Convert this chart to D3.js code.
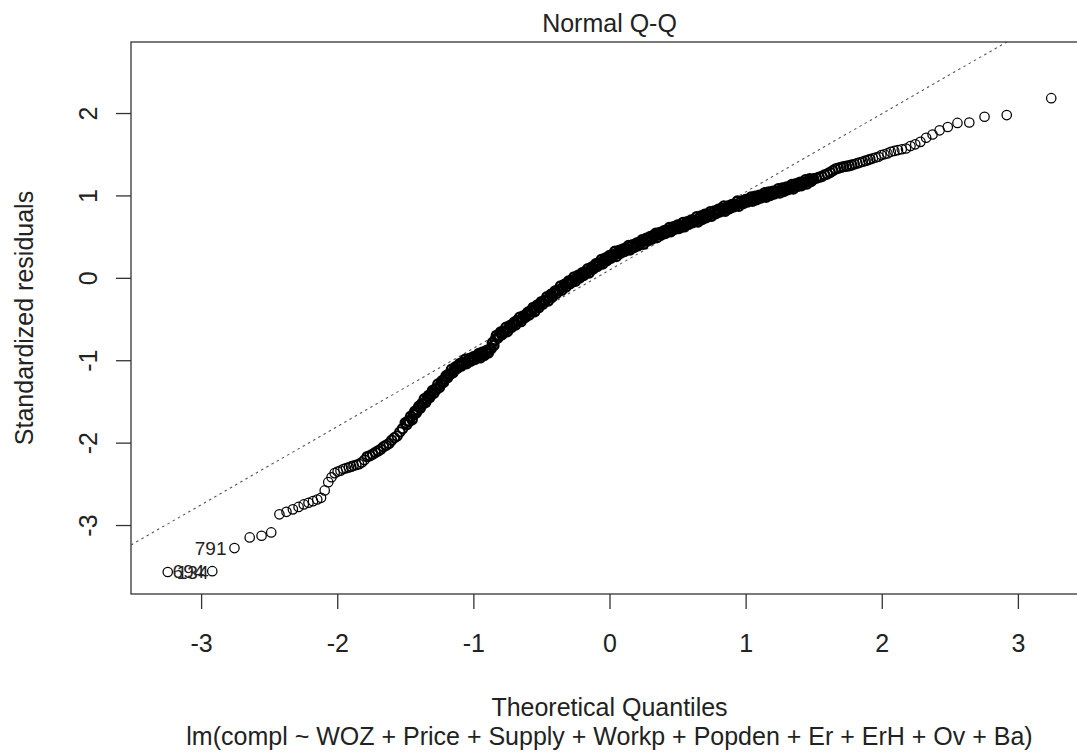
<!DOCTYPE html>
<html>
<head>
<meta charset="utf-8">
<script src="https://cdnjs.cloudflare.com/ajax/libs/d3/7.8.5/d3.min.js"></script>
<style>
    body { margin: 0; background: #fff; }
    svg text { font-family: Arial, "Liberation Sans", sans-serif; fill: #222; }
</style>
</head>
<body>
<div class="content"></div>
<script>
// residual data: tails + outer band, then the dense core
var tailX = [-3.245, -2.918, -2.755, -2.643, -2.556, -2.485, -2.425, -2.373, -2.326, -2.284,
    -2.246, -2.211, -2.178, -2.147, -2.119, -2.092, -2.066, -2.042, -2.019, -1.997,
    -1.976, -1.955, -1.935, -1.915, -1.898, -1.88, -1.86, -1.84, -1.82, -1.80,
    -1.78, -1.76, -1.74, -1.72, -1.70, -1.68, -1.66, -1.64, -1.62, -1.60,
    -1.58, -1.56, -1.54, -1.52,
    1.52, 1.54, 1.56, 1.58, 1.60, 1.62, 1.64, 1.66, 1.68, 1.70,
    1.72, 1.74, 1.76, 1.78, 1.80, 1.82, 1.84, 1.86, 1.88, 1.90,
    1.915, 1.935, 1.955, 1.976, 1.997, 2.019, 2.042, 2.066, 2.092, 2.119,
    2.147, 2.178, 2.211, 2.246, 2.284, 2.326, 2.373, 2.425, 2.485, 2.556,
    2.643, 2.755, 2.918, 3.245];
var tailY = [-3.57, -3.56, -3.28, -3.15, -3.13, -3.09, -2.87, -2.84, -2.81, -2.78,
    -2.75, -2.73, -2.71, -2.69, -2.67, -2.58, -2.48, -2.42, -2.37, -2.35,
    -2.34, -2.32, -2.31, -2.30, -2.29, -2.28, -2.27, -2.26, -2.24, -2.21,
    -2.17, -2.16, -2.14, -2.12, -2.10, -2.08, -2.05, -2.03, -2.01, -1.97,
    -1.94, -1.92, -1.87, -1.83,
    1.21, 1.22, 1.23, 1.25, 1.26, 1.28, 1.30, 1.32, 1.33, 1.34,
    1.35, 1.355, 1.36, 1.37, 1.38, 1.39, 1.40, 1.41, 1.42, 1.43,
    1.44, 1.45, 1.46, 1.47, 1.49, 1.50, 1.51, 1.53, 1.54, 1.55,
    1.56, 1.57, 1.60, 1.62, 1.65, 1.70, 1.74, 1.79, 1.83, 1.88,
    1.885, 1.955, 1.975, 2.18];

var coreX = [-1.50, -1.49, -1.48, -1.47, -1.46, -1.45, -1.44, -1.43, -1.42, -1.41,
    -1.40, -1.39, -1.38, -1.37, -1.36, -1.35, -1.34, -1.33, -1.32, -1.31,
    -1.30, -1.29, -1.28, -1.27, -1.26, -1.25, -1.24, -1.23, -1.22, -1.21,
    -1.20, -1.19, -1.18, -1.17, -1.16, -1.15, -1.14, -1.13, -1.12, -1.11,
    -1.10, -1.09, -1.08, -1.07, -1.06, -1.05, -1.04, -1.03, -1.02, -1.01,
    -1.00, -0.99, -0.98, -0.97, -0.96, -0.95, -0.94, -0.93, -0.92, -0.91,
    -0.90, -0.89, -0.88, -0.87, -0.86, -0.85, -0.84, -0.83, -0.82, -0.81,
    -0.80, -0.79, -0.78, -0.77, -0.76, -0.75, -0.74, -0.73, -0.72, -0.71,
    -0.70, -0.69, -0.68, -0.67, -0.66, -0.65, -0.64, -0.63, -0.62, -0.61,
    -0.60, -0.59, -0.58, -0.57, -0.56, -0.55, -0.54, -0.53, -0.52, -0.51,
    -0.50, -0.49, -0.48, -0.47, -0.46, -0.45, -0.44, -0.43, -0.42, -0.41,
    -0.40, -0.39, -0.38, -0.37, -0.36, -0.35, -0.34, -0.33, -0.32, -0.31,
    -0.30, -0.29, -0.28, -0.27, -0.26, -0.25, -0.24, -0.23, -0.22, -0.21,
    -0.20, -0.19, -0.18, -0.17, -0.16, -0.15, -0.14, -0.13, -0.12, -0.11,
    -0.10, -0.09, -0.08, -0.07, -0.06, -0.05, -0.04, -0.03, -0.02, -0.01,
    0.00, 0.01, 0.02, 0.03, 0.04, 0.05, 0.06, 0.07, 0.08, 0.09,
    0.10, 0.11, 0.12, 0.13, 0.14, 0.15, 0.16, 0.17, 0.18, 0.19,
    0.20, 0.21, 0.22, 0.23, 0.24, 0.25, 0.26, 0.27, 0.28, 0.29,
    0.30, 0.31, 0.32, 0.33, 0.34, 0.35, 0.36, 0.37, 0.38, 0.39,
    0.40, 0.41, 0.42, 0.43, 0.44, 0.45, 0.46, 0.47, 0.48, 0.49,
    0.50, 0.51, 0.52, 0.53, 0.54, 0.55, 0.56, 0.57, 0.58, 0.59,
    0.60, 0.61, 0.62, 0.63, 0.64, 0.65, 0.66, 0.67, 0.68, 0.69,
    0.70, 0.71, 0.72, 0.73, 0.74, 0.75, 0.76, 0.77, 0.78, 0.79,
    0.80, 0.81, 0.82, 0.83, 0.84, 0.85, 0.86, 0.87, 0.88, 0.89,
    0.90, 0.91, 0.92, 0.93, 0.94, 0.95, 0.96, 0.97, 0.98, 0.99,
    1.00, 1.01, 1.02, 1.03, 1.04, 1.05, 1.06, 1.07, 1.08, 1.09,
    1.10, 1.11, 1.12, 1.13, 1.14, 1.15, 1.16, 1.17, 1.18, 1.19,
    1.20, 1.21, 1.22, 1.23, 1.24, 1.25, 1.26, 1.27, 1.28, 1.29,
    1.30, 1.31, 1.32, 1.33, 1.34, 1.35, 1.36, 1.37, 1.38, 1.39,
    1.40, 1.41, 1.42, 1.43, 1.44, 1.45, 1.46, 1.47, 1.48, 1.49,
    1.50];
var coreY = [-1.76, -1.78, -1.74, -1.74, -1.68, -1.72, -1.66, -1.62, -1.64, -1.60,
    -1.56, -1.58, -1.53, -1.53, -1.47, -1.51, -1.47, -1.43, -1.45, -1.41,
    -1.37, -1.40, -1.35, -1.35, -1.29, -1.33, -1.29, -1.25, -1.27, -1.23,
    -1.19, -1.21, -1.17, -1.17, -1.11, -1.15, -1.11, -1.08, -1.10, -1.07,
    -1.04, -1.07, -1.03, -1.04, -0.99, -1.04, -1.00, -0.98, -1.01, -0.98,
    -0.96, -0.99, -0.95, -0.96, -0.92, -0.97, -0.93, -0.90, -0.94, -0.91,
    -0.88, -0.91, -0.87, -0.86, -0.79, -0.82, -0.75, -0.70, -0.73, -0.70,
    -0.66, -0.69, -0.65, -0.66, -0.60, -0.65, -0.61, -0.58, -0.60, -0.57,
    -0.54, -0.57, -0.52, -0.53, -0.48, -0.53, -0.49, -0.46, -0.48, -0.45,
    -0.42, -0.45, -0.40, -0.41, -0.36, -0.41, -0.36, -0.33, -0.36, -0.32,
    -0.29, -0.32, -0.28, -0.28, -0.23, -0.28, -0.23, -0.20, -0.23, -0.19,
    -0.16, -0.19, -0.15, -0.15, -0.10, -0.15, -0.11, -0.08, -0.11, -0.07,
    -0.04, -0.07, -0.03, -0.04, 0.01, -0.04, 0.00, 0.03, 0.00, 0.03,
    0.06, 0.03, 0.07, 0.06, 0.11, 0.06, 0.10, 0.13, 0.11, 0.14,
    0.17, 0.14, 0.18, 0.17, 0.22, 0.17, 0.21, 0.24, 0.21, 0.24,
    0.27, 0.24, 0.28, 0.27, 0.32, 0.26, 0.30, 0.33, 0.30, 0.32,
    0.35, 0.32, 0.36, 0.35, 0.39, 0.34, 0.38, 0.40, 0.37, 0.40,
    0.42, 0.39, 0.43, 0.42, 0.46, 0.41, 0.45, 0.48, 0.45, 0.47,
    0.50, 0.47, 0.51, 0.50, 0.54, 0.49, 0.53, 0.55, 0.52, 0.55,
    0.57, 0.54, 0.58, 0.56, 0.61, 0.56, 0.59, 0.62, 0.59, 0.61,
    0.64, 0.60, 0.64, 0.62, 0.67, 0.62, 0.65, 0.68, 0.65, 0.67,
    0.70, 0.67, 0.70, 0.69, 0.74, 0.68, 0.72, 0.75, 0.71, 0.74,
    0.77, 0.73, 0.77, 0.76, 0.80, 0.75, 0.79, 0.81, 0.78, 0.81,
    0.83, 0.80, 0.84, 0.82, 0.87, 0.81, 0.85, 0.87, 0.84, 0.87,
    0.89, 0.86, 0.89, 0.88, 0.93, 0.87, 0.91, 0.93, 0.90, 0.92,
    0.95, 0.92, 0.95, 0.94, 0.98, 0.93, 0.96, 0.99, 0.95, 0.98,
    1.00, 0.97, 1.00, 0.99, 1.03, 0.98, 1.01, 1.04, 1.00, 1.03,
    1.05, 1.02, 1.05, 1.04, 1.08, 1.03, 1.06, 1.09, 1.05, 1.08,
    1.10, 1.07, 1.10, 1.09, 1.13, 1.08, 1.12, 1.14, 1.11, 1.13,
    1.16, 1.12, 1.16, 1.15, 1.19, 1.14, 1.17, 1.20, 1.17, 1.19,
    1.20];

// labelled extreme residuals
var idLabels = ["134", "694", "791"];
var idX = [-3.245, -2.918, -2.755];
var idY = [-3.57, -3.56, -3.28];

// reference line (qqline) intercept and slope
var lineIntercept = 0.093, lineSlope = 0.949;

var xTicks = [-3, -2, -1, 0, 1, 2, 3];
var yTicks = [-3, -2, -1, 0, 1, 2];

var titleText = "Normal Q-Q";
var xTitle = "Theoretical Quantiles";
var yTitle = "Standardized residuals";
var subTitle = "lm(compl ~ WOZ + Price + Supply + Workp + Popden + Er + ErH + Ov + Ba)";

(function () {
    'use strict';
    var width = 1077, height = 756,
        plot = {left: 131, right: 1088, top: 42, bottom: 594},
        fontSize = 25,
        svg, x, y, points = [], i, cx, xAxis, yAxis, mid;

    x = d3.scaleLinear().domain([-3.515, 3.515]).range([plot.left, plot.right]);
    y = d3.scaleLinear().domain([-3.837, 2.862]).range([plot.bottom, plot.top]);

    for (i = 0; i < tailX.length; i += 1) {
        points.push({x: tailX[i], y: tailY[i]});
    }
    for (i = 0; i < coreX.length; i += 1) {
        points.push({x: coreX[i], y: coreY[i]});
    }

    // heavier outline where the real sample overplots into a solid band
    function strokeFor(d) {
        var a = Math.abs(d.x);
        if (a <= 1.5) {
            return 2.3;
        }
        if (a < 1.8) {
            return 2.0;
        }
        if (a < 1.93) {
            return 1.5;
        }
        return 1.25;
    }

    svg = d3.select(".content").append("svg")
        .attr("width", width)
        .attr("height", height)
        .style("display", "block");

    svg.append("clipPath").attr("id", "plotClip")
        .append("rect")
        .attr("x", plot.left)
        .attr("y", plot.top)
        .attr("width", plot.right - plot.left)
        .attr("height", plot.bottom - plot.top);

    // dotted qqline
    svg.append("line")
        .attr("clip-path", "url(#plotClip)")
        .attr("x1", x(-3.515))
        .attr("y1", y(lineIntercept + lineSlope * -3.515))
        .attr("x2", x(3.515))
        .attr("y2", y(lineIntercept + lineSlope * 3.515))
        .attr("stroke", "#555")
        .attr("stroke-width", 1.1)
        .attr("stroke-dasharray", "2.5,3.5");

    svg.append("g").selectAll("circle")
        .data(points)
        .enter().append("circle")
        .attr("cx", function (d) { return x(d.x); })
        .attr("cy", function (d) { return y(d.y); })
        .attr("r", 4.7)
        .attr("fill", "none")
        .attr("stroke", "#000")
        .attr("stroke-width", strokeFor);

    // point ids, placed like R's text.id (left half -> right of point)
    mid = (d3.min(idX) + d3.max(idX)) / 2;
    svg.append("g").selectAll("text")
        .data(idLabels)
        .enter().append("text")
        .attr("x", function (d, j) {
            cx = x(idX[j]);
            return idX[j] > mid ? cx - 8 : cx + 9;
        })
        .attr("y", function (d, j) { return y(idY[j]) + 7; })
        .attr("text-anchor", function (d, j) { return idX[j] > mid ? "end" : "start"; })
        .attr("font-size", 19)
        .text(function (d) { return d; });

    // box
    svg.append("rect")
        .attr("x", plot.left)
        .attr("y", plot.top)
        .attr("width", plot.right - plot.left)
        .attr("height", plot.bottom - plot.top)
        .attr("fill", "none")
        .attr("stroke", "#333")
        .attr("stroke-width", 1.3);

    xAxis = svg.append("g")
        .attr("transform", "translate(0," + plot.bottom + ")")
        .call(d3.axisBottom(x).tickValues(xTicks).tickSize(15).tickPadding(25)
            .tickFormat(function (d) { return String(d); }));
    xAxis.select(".domain").remove();
    xAxis.selectAll(".tick line").attr("stroke", "#333").attr("stroke-width", 1.3);
    xAxis.selectAll(".tick text")
        .attr("font-size", fontSize)
        .attr("font-family", null)
        .attr("fill", "#222");

    yAxis = svg.append("g")
        .attr("transform", "translate(" + plot.left + ",0)")
        .call(d3.axisLeft(y).tickValues(yTicks).tickSize(15)
            .tickFormat(function (d) { return String(d); }));
    yAxis.select(".domain").remove();
    yAxis.selectAll(".tick line").attr("stroke", "#333").attr("stroke-width", 1.3);
    yAxis.selectAll(".tick text")
        .attr("transform", "rotate(-90)")
        .attr("x", 0)
        .attr("y", -34)
        .attr("dy", null)
        .attr("text-anchor", "middle")
        .attr("font-size", fontSize)
        .attr("font-family", null)
        .attr("fill", "#222");

    svg.append("text")
        .attr("x", (plot.left + plot.right) / 2)
        .attr("y", 32)
        .attr("text-anchor", "middle")
        .attr("font-size", fontSize)
        .text(titleText);

    svg.append("text")
        .attr("x", (plot.left + plot.right) / 2)
        .attr("y", 716)
        .attr("text-anchor", "middle")
        .attr("font-size", fontSize)
        .text(xTitle);

    svg.append("text")
        .attr("x", (plot.left + plot.right) / 2)
        .attr("y", 745)
        .attr("text-anchor", "middle")
        .attr("font-size", fontSize)
        .text(subTitle);

    svg.append("text")
        .attr("transform", "translate(33," + (plot.top + plot.bottom) / 2 + ") rotate(-90)")
        .attr("text-anchor", "middle")
        .attr("font-size", fontSize)
        .text(yTitle);
}());
</script>
</body>
</html>
